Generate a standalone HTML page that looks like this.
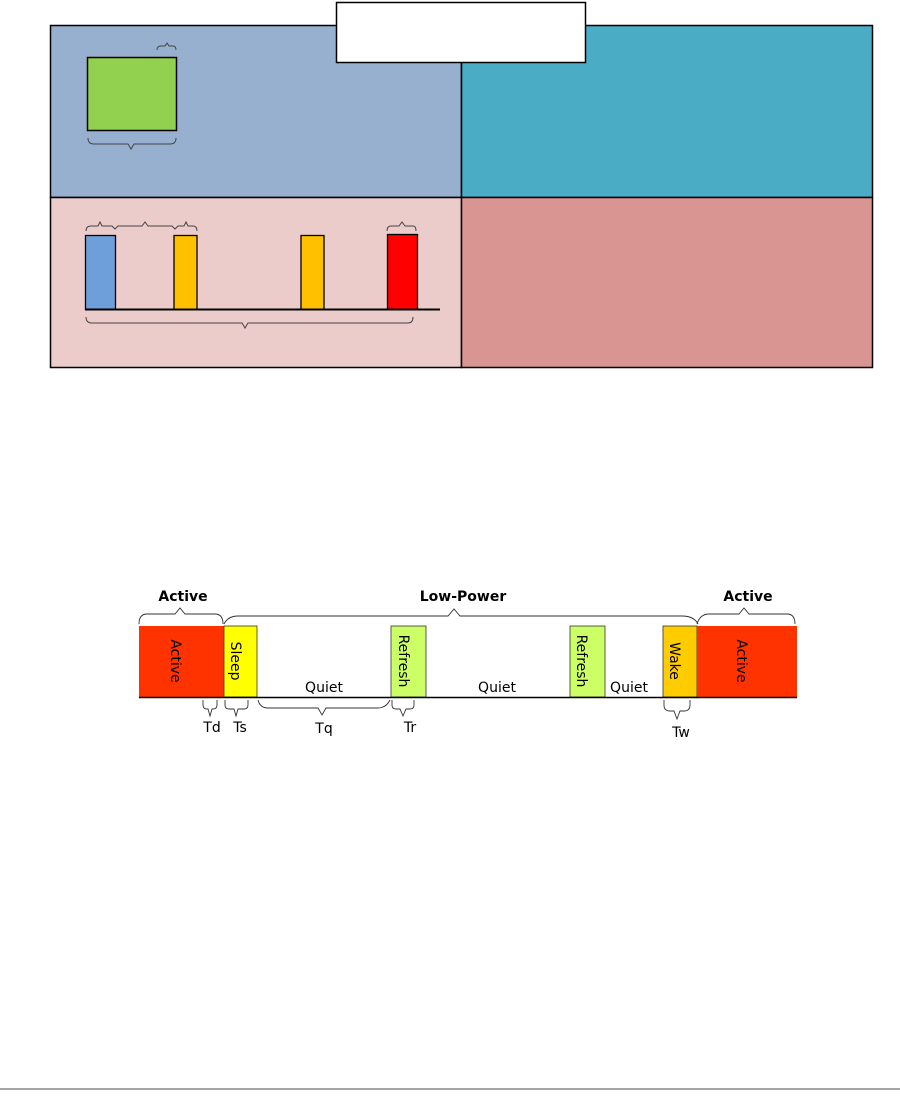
<!DOCTYPE html>
<html><head><style>
html,body{margin:0;padding:0;background:#fff;width:900px;height:1101px;overflow:hidden}
text{font-family:"DejaVu Sans","Liberation Sans",sans-serif}
</style></head><body>
<svg width="900" height="1101" viewBox="0 0 900 1101" xmlns="http://www.w3.org/2000/svg">
<!-- top panel -->
<g stroke="#000" stroke-width="1.5">
<rect x="50.5" y="25.5" width="411" height="172" fill="#97b0cf"/>
<rect x="461.5" y="25.5" width="411" height="172" fill="#4bacc6"/>
<rect x="50.5" y="197.5" width="411" height="170" fill="#ebcccb"/>
<rect x="461.5" y="197.5" width="411" height="170" fill="#d99592"/>
<rect x="336.5" y="2.5" width="249" height="60" fill="#fff"/>
<rect x="87.5" y="57.5" width="89" height="73" fill="#92d050"/>
</g>
<g fill="none" stroke="#444" stroke-width="1">
<path d="M157 50 q0 -4 4 -4 h4 l2 -3 l2 3 h4 q3 0 3 4"/>
<path d="M88 138 q0 6 6 6 h34 l3 5 l3 -5 h36 q6 0 6 -6"/>
<path d="M86 231 Q86 226 91 226 L98 226 L100 222 L102 226 L112 226 L115 229 L118 226 L142 226 L145 222 L148 226 L172 226 L175 229 L178 226 L184 226 L186 222 L188 226 L193 226 Q197 226 197 231"/>
<path d="M387 231 q0 -5 4 -5 h8 l3 -4 l3 4 h8 q3 0 3 5"/>
<path d="M86 317 q0 6 6 6 h150 l3 5 l3 -5 h160 q5 0 5 -6"/>
</g>
<g stroke="#000" stroke-width="1.3">
<rect x="85.5" y="235.5" width="30" height="74" fill="#6f9fdb"/>
<rect x="174" y="235.5" width="23" height="74" fill="#ffc000"/>
<rect x="301" y="235.5" width="23" height="74" fill="#ffc000"/>
<rect x="387.5" y="234.5" width="30" height="75" fill="#ff0000"/>
</g>
<line x1="85" y1="309.5" x2="440" y2="309.5" stroke="#000" stroke-width="2"/>

<!-- timing diagram -->
<rect x="139" y="626" width="85" height="71" fill="#ff3300"/>
<rect x="224" y="626" width="33" height="71" fill="#ffff00" stroke="#333" stroke-width="0.8"/>
<rect x="391" y="626" width="35" height="71" fill="#ccff66" stroke="#333" stroke-width="0.8"/>
<rect x="570" y="626" width="35" height="71" fill="#ccff66" stroke="#333" stroke-width="0.8"/>
<rect x="663" y="626" width="34" height="71" fill="#ffcc00" stroke="#333" stroke-width="0.8"/>
<rect x="697" y="626" width="100" height="71" fill="#ff3300"/>
<line x1="139" y1="697.5" x2="797" y2="697.5" stroke="#000" stroke-width="1.4"/>
<g font-size="14" fill="#000" text-anchor="middle">
<text transform="translate(176,661) rotate(90)" dy="5">Active</text>
<text transform="translate(236,661) rotate(90)" dy="5">Sleep</text>
<text transform="translate(404,661) rotate(90)" dy="5">Refresh</text>
<text transform="translate(582,661) rotate(90)" dy="5">Refresh</text>
<text transform="translate(675,661) rotate(90)" dy="5">Wake</text>
<text transform="translate(742,661) rotate(90)" dy="5">Active</text>
<text x="324" y="692">Quiet</text>
<text x="497" y="692">Quiet</text>
<text x="629" y="692">Quiet</text>
<text x="212" y="732">Td</text>
<text x="240" y="732">Ts</text>
<text x="324" y="733">Tq</text>
<text x="410" y="732">Tr</text>
<text x="681" y="737">Tw</text>
</g>
<g font-size="14" font-weight="bold" text-anchor="middle">
<text x="183" y="601">Active</text>
<text x="463" y="601">Low-Power</text>
<text x="748" y="601">Active</text>
</g>
<g fill="none" stroke="#333" stroke-width="0.9">
<path d="M139 624 q0 -10 8 -10 h28 l5 -6 l5 6 h30 q8 0 8 10"/>
<path d="M224 624 q4 -8 14 -8 h210 l6 -7 l6 7 h222 q12 0 16 8"/>
<path d="M697 624 q3 -10 12 -10 h30 l5 -6 l5 6 h38 q8 0 8 10"/>
<path d="M203 700 v5 q0 4 4 4 h1 l2 7 l2 -7 h1 q4 0 4 -4 v-5"/>
<path d="M225 700 v5 q0 4 4 4 h5 l2 7 l2 -7 h6 q4 0 4 -4 v-5"/>
<path d="M258 700 q2 8 10 8 h50 l4 7 l4 -7 h52 q8 0 12 -8"/>
<path d="M392 700 v5 q0 4 4 4 h4 l3 7 l3 -7 h4 q4 0 4 -4 v-5"/>
<path d="M664 700 v5 q0 6 6 6 h4 l3 8 l3 -8 h4 q6 0 6 -6 v-5"/>
</g>
<rect x="0" y="1088" width="900" height="2" fill="#a6a6a6"/>
</svg>
</body></html>
